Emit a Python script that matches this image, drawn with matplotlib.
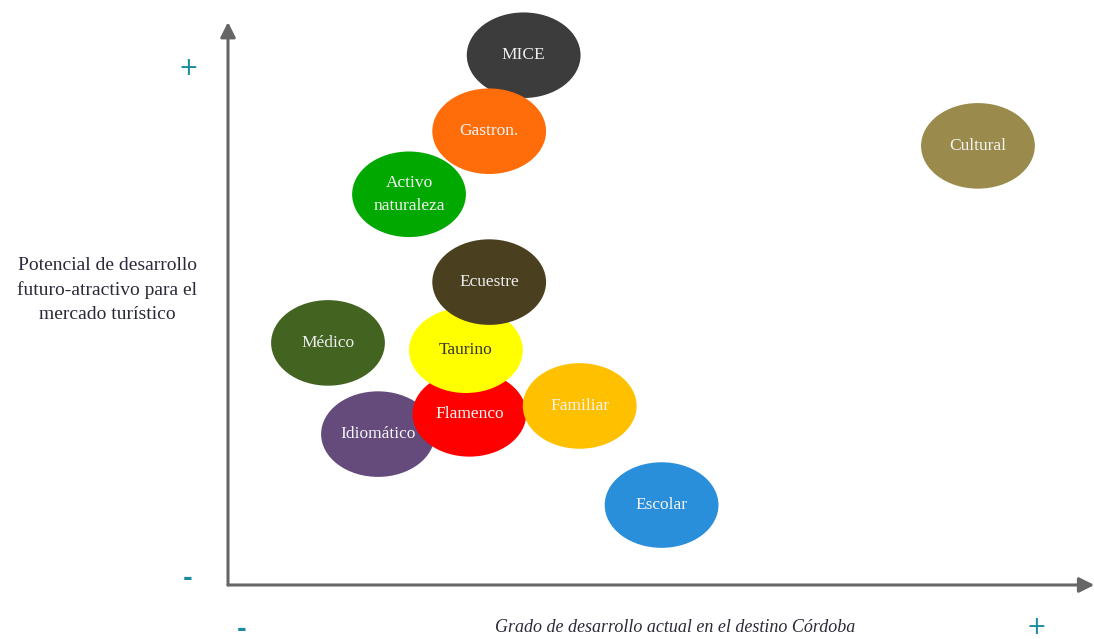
import matplotlib
matplotlib.use("Agg")
import matplotlib.pyplot as plt
from matplotlib.patches import Ellipse

# Tourism segments: current development (x) vs. future potential (y), 0-100 scale
segments = ["MICE", "Gastron.", "Activo\nnaturaleza", "Idiomático", "Flamenco",
            "Taurino", "Ecuestre", "Médico", "Familiar", "Escolar", "Cultural"]
desarrollo_actual = [34.3, 30.3, 21.0, 17.4, 28.0, 27.6, 30.3, 11.6, 40.8, 50.3, 87.0]
potencial_futuro = [94.1, 80.6, 69.4, 26.8, 30.4, 41.7, 53.8, 43.0, 31.8, 14.2, 78.0]
colores = ["#3c3c3c", "#ff6d0a", "#00a800", "#654a7c", "#ff0000",
           "#ffff00", "#4a4020", "#426420", "#ffc000", "#2a8fdb", "#9a8b4c"]
color_texto = ["#eeeeee", "#f4f4f4", "#f4f4f4", "#f4f4f4", "#f4f4f4",
               "#333333", "#eeeeee", "#eeeeee", "#f4f4f4", "#f4f4f4", "#f4f4f4"]

ancho, alto = 13.2, 15.2
serif = ["Liberation Serif", "DejaVu Serif"]
teal = "#1a8aa0"
gris = "#666666"

fig = plt.figure(figsize=(10.94, 6.39), dpi=100)
ax = fig.add_axes([228 / 1094, 54 / 639, 862 / 1094, 563 / 639])
ax.set_xlim(0, 100)
ax.set_ylim(0, 100)
ax.axis("off")

for i, (name, x, y, c, tc) in enumerate(zip(segments, desarrollo_actual, potencial_futuro,
                                            colores, color_texto)):
    ax.add_patch(Ellipse((x, y), ancho, alto, facecolor=c, edgecolor="none",
                         zorder=2 + i, clip_on=False))
    ax.text(x, y, name, ha="center", va="center", fontsize=12.5, family=serif,
            color=tc, linespacing=1.55, zorder=20)

# Axis arrows
arrow = dict(arrowstyle="-|>,head_length=0.9,head_width=0.45", color=gris, lw=2.2,
             shrinkA=0, shrinkB=0)
ax.annotate("", xy=(0, 1.0), xytext=(0, 0), xycoords="axes fraction",
            arrowprops=arrow, annotation_clip=False)
ax.annotate("", xy=(1.005, 0), xytext=(0, 0), xycoords="axes fraction",
            arrowprops=arrow, annotation_clip=False)

# Axis titles
fig.text(107 / 1094, 1 - 290 / 639,
         "Potencial de desarrollo\nfuturo-atractivo para el\nmercado turístico",
         ha="center", va="center", fontsize=14, family=serif, color="#2a2a3a",
         linespacing=1.55)
fig.text(675 / 1094, 1 - 627 / 639,
         "Grado de desarrollo actual en el destino Córdoba",
         ha="center", va="center", fontsize=13, family=serif, style="italic",
         color="#2a2a3a")

# Scale markers
def plus(px, py):
    fig.text(px / 1094, 1 - py / 639, "+", ha="center", va="center", fontsize=17,
             color=teal, family=["DejaVu Sans"])

def minus(px, py):
    fig.text(px / 1094, 1 - py / 639, "-", ha="center", va="center", fontsize=17,
             color=teal, family=["DejaVu Sans"], fontweight="bold")

plus(188, 68)
minus(188, 578)
minus(242, 629)
plus(1036, 627)

fig.savefig("out.png", dpi=100)
